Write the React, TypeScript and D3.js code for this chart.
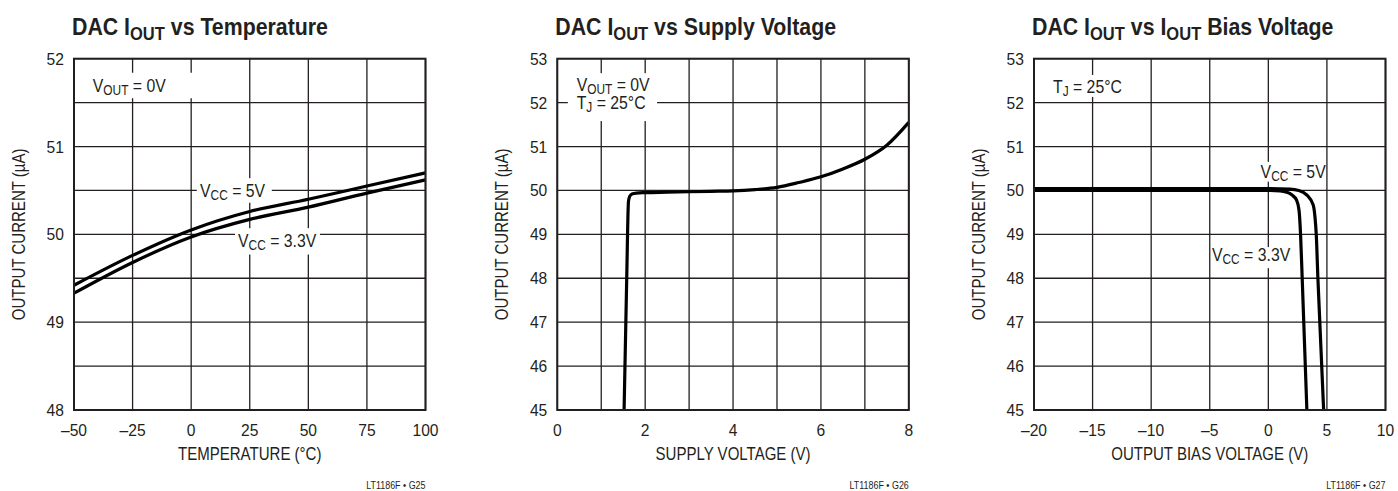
import React, { useEffect, useRef } from "react";
import * as d3 from "d3";

const WIDTH = 1398;
const HEIGHT = 491;

// panel 1 - DAC IOUT vs temperature
const tempC = [-50, -25, 0, 25, 50, 75, 100];
const iout5vTemp = [49.42, 49.76, 50.05, 50.26, 50.4, 50.55, 50.7];
const iout33vTemp = [49.33, 49.68, 49.97, 50.17, 50.31, 50.47, 50.62];
const tempXTicks = [-50, -25, 0, 25, 50, 75, 100];
const tempYTicks = [48, 49, 50, 51, 52];
const tempYGrid = [48, 48.5, 49, 49.5, 50, 50.5, 51, 51.5, 52];

// panel 2 - DAC IOUT vs supply voltage
const supplyV = [1.52, 1.58, 1.62, 1.65, 1.7, 1.8, 2, 2.5, 3, 3.5, 4, 4.5, 5, 5.5, 6, 6.5, 7, 7.5, 8];
const ioutSupply = [45, 48, 49.75, 49.87, 49.92, 49.94, 49.95, 49.96, 49.97, 49.98, 49.99, 50.02, 50.07, 50.18, 50.31, 50.49, 50.71, 51.03, 51.55];
const supplyXTicks = [0, 2, 4, 6, 8];
const supplyXGrid = [0, 1, 2, 3, 4, 5, 6, 7, 8];
const ioutYTicks = [45, 46, 47, 48, 49, 50, 51, 52, 53];

// panel 3 - DAC IOUT vs IOUT bias voltage
const bias33V = [-20, -10, 0, 1, 1.56, 2.0, 2.41, 2.62, 2.75, 2.89, 3.29];
const iout33vBias = [50.0, 50.0, 50.0, 49.99, 49.96, 49.9, 49.78, 49.55, 49.0, 48.0, 45];
const bias5V = [-20, -10, 0, 1.84, 2.6, 3.27, 3.83, 3.98, 4.09, 4.23, 4.72];
const iout5vBias = [50.04, 50.04, 50.04, 50.03, 50.0, 49.9, 49.67, 49.4, 49.0, 48.0, 45];
const biasXTicks = [-20, -15, -10, -5, 0, 5, 10];

const PLOT_TOP = 58.7;
const PLOT_W = 351.5;
const PLOT_H = 351.3;
const INK = "#231f20";
const FONT = "'Liberation Sans', Arial, sans-serif";
const SX = 0.85; // horizontal squeeze to mimic a condensed face

type Part = [string, boolean?];
type Note = { lines: Part[][]; x: number; y: number; box: [number, number, number, number] };

const fmt = (d: number) => (d < 0 ? `\u2013${-d}` : `${d}`);

const panels = [
  {
    left: 74,
    xDomain: [-50, 100],
    yDomain: [48, 52],
    xGrid: tempXTicks,
    yGrid: tempYGrid,
    xTicks: tempXTicks,
    yTicks: tempYTicks,
    title: [["DAC I"], ["OUT", true], [" vs Temperature"]] as Part[],
    xLabel: "TEMPERATURE (\u00b0C)",
    footer: "LT1186F \u2022 G25",
    series: [
      { x: tempC, y: iout5vTemp },
      { x: tempC, y: iout33vTemp },
    ],
    notes: [
      { lines: [[["V"], ["OUT", true], [" = 0V"]]], x: -42, y: 51.625, box: [-49.5, 2, 51.84, 51.55] },
      { lines: [[["V"], ["CC", true], [" = 5V"]]], x: 3.8, y: 50.43, box: [2.4, 34.4, 50.64, 50.36] },
      { lines: [[["V"], ["CC", true], [" = 3.3V"]]], x: 20, y: 49.86, box: [18.7, 55, 50.07, 49.77] },
    ] as Note[],
  },
  {
    left: 557.3,
    xDomain: [0, 8],
    yDomain: [45, 53],
    xGrid: supplyXGrid,
    yGrid: ioutYTicks,
    xTicks: supplyXTicks,
    yTicks: ioutYTicks,
    title: [["DAC I"], ["OUT", true], [" vs Supply Voltage"]] as Part[],
    xLabel: "SUPPLY VOLTAGE (V)",
    footer: "LT1186F \u2022 G26",
    series: [{ x: supplyV, y: ioutSupply }],
    notes: [
      {
        lines: [
          [["V"], ["OUT", true], [" = 0V"]],
          [["T"], ["J", true], [" = 25\u00b0C"]],
        ],
        x: 0.44,
        y: 52.27,
        box: [0.24, 2.27, 52.67, 51.58],
      },
    ] as Note[],
  },
  {
    left: 1034,
    xDomain: [-20, 10],
    yDomain: [45, 53],
    xGrid: biasXTicks,
    yGrid: ioutYTicks,
    xTicks: biasXTicks,
    yTicks: ioutYTicks,
    title: [["DAC I"], ["OUT", true], [" vs I"], ["OUT", true], [" Bias Voltage"]] as Part[],
    xLabel: "OUTPUT BIAS VOLTAGE (V)",
    footer: "LT1186F \u2022 G27",
    series: [
      { x: bias5V, y: iout5vBias },
      { x: bias33V, y: iout33vBias },
    ],
    notes: [
      { lines: [[["T"], ["J", true], [" = 25\u00b0C"]]], x: -18.38, y: 52.21, box: [-19.5, -11.8, 52.63, 52.13] },
      { lines: [[["V"], ["CC", true], [" = 5V"]]], x: -0.66, y: 50.28, box: [-0.9, 4.85, 50.65, 50.2] },
      { lines: [[["V"], ["CC", true], [" = 3.3V"]]], x: -4.81, y: 48.4, box: [-4.85, 2.1, 48.71, 48.23] },
    ] as Note[],
  },
];

// text element placed at (x, y), squeezed horizontally
function label(g: any, x: number, y: number, size: number, anchor = "start", sx = SX, rotate = 0) {
  return g
    .append("text")
    .attr("transform", `translate(${x},${y})${rotate ? ` rotate(${rotate})` : ""} scale(${sx},1)`)
    .attr("text-anchor", anchor)
    .attr("font-family", FONT)
    .attr("font-size", size)
    .attr("fill", INK)
    .style("white-space", "pre");
}

// subscript tspans
function richText(sel: any, parts: Part[], size: number, subSize: number, shift: number) {
  parts.forEach(([t, sub], i) => {
    const prevSub = i > 0 && parts[i - 1][1];
    sel
      .append("tspan")
      .attr("font-size", sub ? subSize : size)
      .attr("dy", sub ? shift : prevSub ? -shift : 0)
      .text(t);
  });
}

const App = () => {
  const ref = useRef<SVGSVGElement>(null);

  useEffect(() => {
    const svg = d3.select(ref.current);
    svg.selectAll("*").remove();

    panels.forEach((p) => {
      const x = d3.scaleLinear().domain(p.xDomain).range([p.left, p.left + PLOT_W]);
      const y = d3.scaleLinear().domain(p.yDomain).range([PLOT_TOP + PLOT_H, PLOT_TOP]);
      const g = svg.append("g");

      // grid
      g.selectAll(".gx")
        .data(p.xGrid)
        .join("line")
        .attr("x1", (d) => x(d))
        .attr("x2", (d) => x(d))
        .attr("y1", PLOT_TOP)
        .attr("y2", PLOT_TOP + PLOT_H)
        .attr("stroke", INK)
        .attr("stroke-width", 1.3);
      g.selectAll(".gy")
        .data(p.yGrid)
        .join("line")
        .attr("x1", p.left)
        .attr("x2", p.left + PLOT_W)
        .attr("y1", (d) => y(d))
        .attr("y2", (d) => y(d))
        .attr("stroke", INK)
        .attr("stroke-width", 1.3);

      // annotation boxes and labels
      p.notes.forEach((n) => {
        const [bx0, bx1, by0, by1] = n.box;
        g.append("rect")
          .attr("x", x(bx0))
          .attr("y", y(by0))
          .attr("width", x(bx1) - x(bx0))
          .attr("height", y(by1) - y(by0))
          .attr("fill", "#fff");
        n.lines.forEach((line, i) => {
          const t = label(g, x(n.x), y(n.y) + i * 18.5, 18.6);
          richText(t, line, 18.6, 14, 3);
        });
      });

      // curves
      const line = d3
        .line<[number, number]>()
        .x((d) => x(d[0]))
        .y((d) => y(d[1]))
        .curve(d3.curveMonotoneX);
      p.series.forEach((s) => {
        g.append("path")
          .attr("d", line(s.x.map((v, i) => [v, s.y[i]] as [number, number])))
          .attr("fill", "none")
          .attr("stroke", "#000")
          .attr("stroke-width", 3.2)
          .attr("stroke-linejoin", "round");
      });

      // frame
      g.append("rect")
        .attr("x", p.left)
        .attr("y", PLOT_TOP)
        .attr("width", PLOT_W)
        .attr("height", PLOT_H)
        .attr("fill", "none")
        .attr("stroke", INK)
        .attr("stroke-width", 2);

      // tick labels
      p.xTicks.forEach((d) => label(g, x(d), 436, 17, "middle", 0.92).text(fmt(d)));
      p.yTicks.forEach((d) => label(g, p.left - 10, y(d) + 6, 17, "end", 0.92).text(fmt(d)));

      // axis titles
      label(g, p.left + PLOT_W / 2, 460, 17.7, "middle").text(p.xLabel);
      label(g, p.left - 49, PLOT_TOP + PLOT_H / 2, 17.7, "middle", SX, -90).text("OUTPUT CURRENT (\u00b5A)");

      // title
      const title = label(g, p.left - 2, 35, 24.5, "start", 0.87).attr("font-weight", "bold");
      richText(title, p.title, 24.5, 19, 5);

      // footer code
      label(g, p.left + PLOT_W, 489, 10.5).attr("text-anchor", "end").text(p.footer);
    });
  }, []);

  return (
    <svg
      ref={ref}
      width={WIDTH}
      height={HEIGHT}
      viewBox={`0 0 ${WIDTH} ${HEIGHT}`}
      style={{ position: "absolute", left: 0, top: 0, background: "#fff" }}
    />
  );
};

export default App;
